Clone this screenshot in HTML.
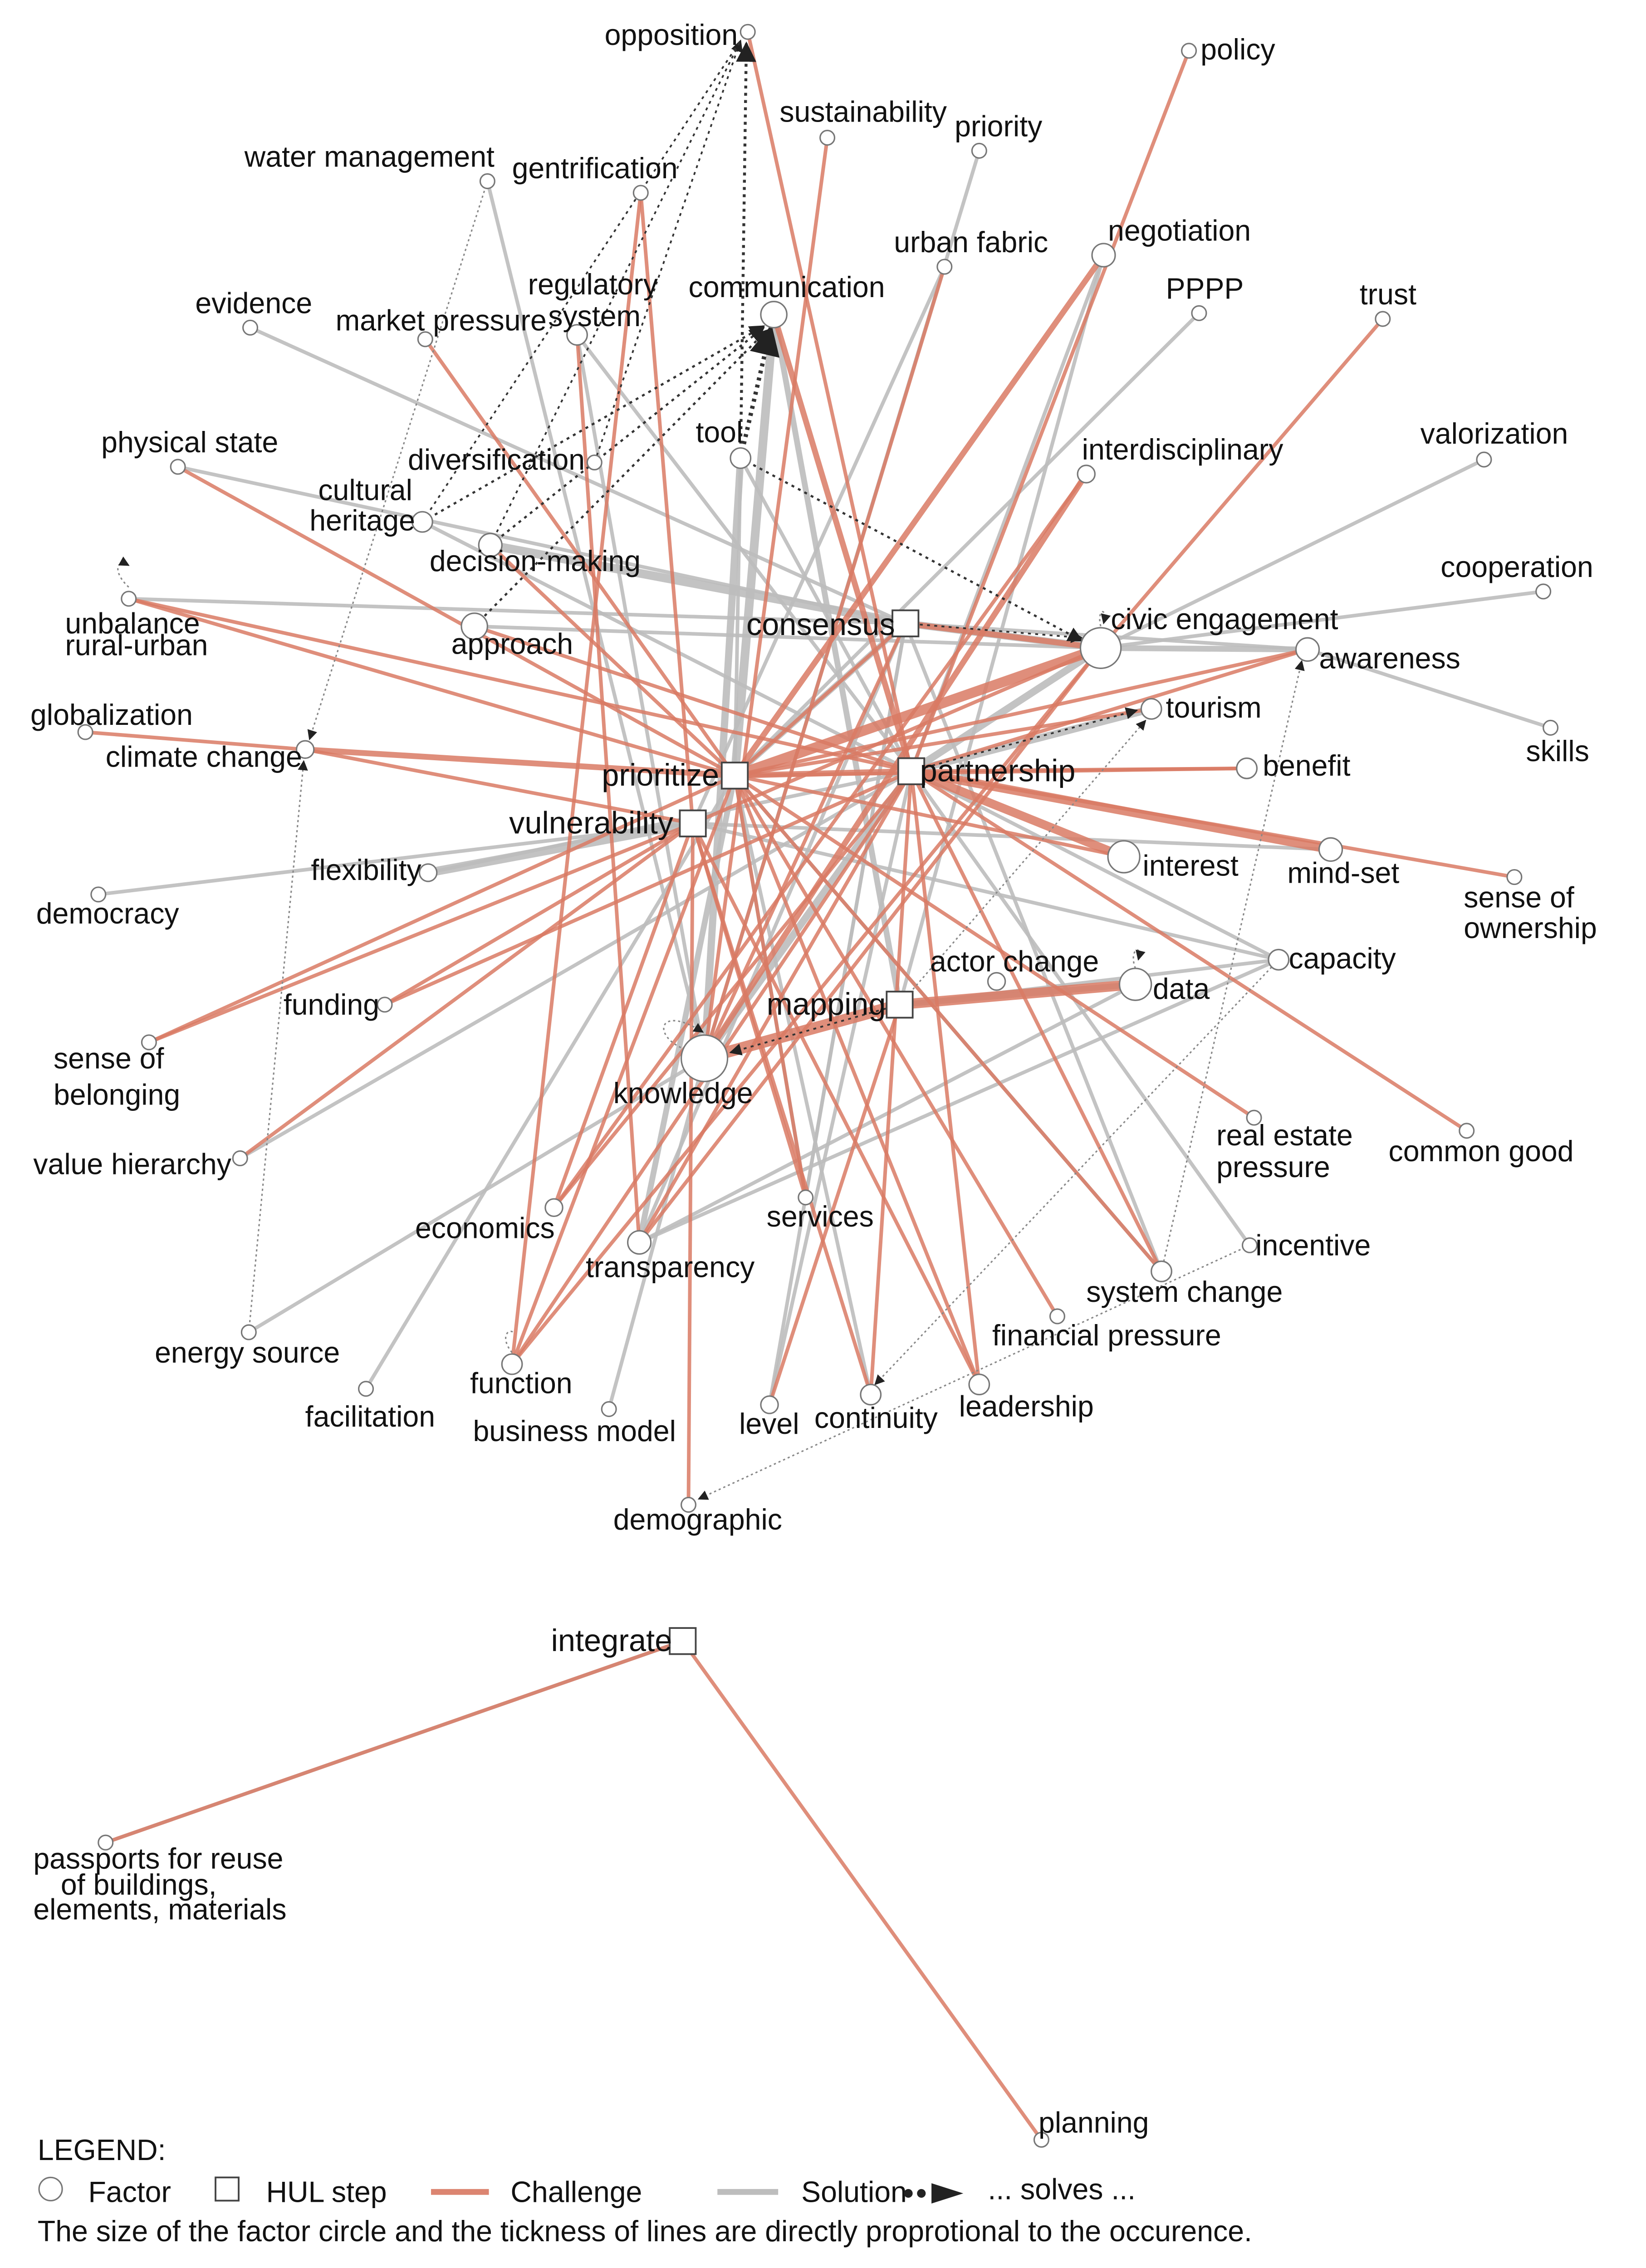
<!DOCTYPE html>
<html><head><meta charset="utf-8"><style>
html,body{margin:0;padding:0;background:#fff;overflow:hidden;width:3628px;height:5088px}
svg{display:block}
text{font-family:"Liberation Sans",sans-serif;font-size:20.2px;fill:#111}
.h{font-size:21.5px}
.r{stroke:#D97A64;fill:none;stroke-opacity:.85}
.g{stroke:#BDBDBD;fill:none;stroke-opacity:.9}
.d{stroke:#333;fill:none;stroke-dasharray:2 3}
.t{stroke:#888;fill:none;stroke-dasharray:1.5 2;stroke-width:1}
circle{fill:#fff;stroke:#777;stroke-width:1}
rect{fill:#fff;stroke:#444;stroke-width:1.2}
</style></head><body>
<svg width="3628" height="5088" viewBox="0 0 1138 1592" preserveAspectRatio="none" xmlns="http://www.w3.org/2000/svg">
<defs><marker id="a" viewBox="0 0 10 10" refX="9" refY="5" markerWidth="7" markerHeight="7" orient="auto"><path d="M0,0L10,5L0,10z" fill="#222"/></marker></defs>
<g class="g" stroke-width="2.5">
<line x1="677" y1="104" x2="487" y2="730"/>
<line x1="337" y1="125" x2="487" y2="730"/>
<line x1="173" y1="226" x2="626" y2="430"/>
<line x1="399" y1="231" x2="630" y2="532"/>
<line x1="399" y1="231" x2="487" y2="730"/>
<line x1="829" y1="216" x2="508" y2="535"/>
<line x1="1026" y1="317" x2="761" y2="447"/>
<line x1="1067" y1="408" x2="761" y2="447"/>
<line x1="904" y1="448" x2="1072" y2="502"/>
<line x1="68" y1="617" x2="479" y2="568"/>
<line x1="884" y1="662" x2="622" y2="693"/>
<line x1="884" y1="662" x2="630" y2="532"/>
<line x1="172" y1="919" x2="487" y2="730"/>
<line x1="253" y1="958" x2="508" y2="535"/>
<line x1="421" y1="972" x2="487" y2="730"/>
<line x1="512" y1="316" x2="630" y2="532"/>
<line x1="512" y1="316" x2="508" y2="535"/>
<line x1="292" y1="360" x2="630" y2="532"/>
<line x1="328" y1="432" x2="761" y2="447"/>
<line x1="864" y1="859" x2="630" y2="532"/>
<line x1="557" y1="826" x2="508" y2="535"/>
<line x1="442" y1="857" x2="626" y2="430"/>
<line x1="472" y1="1132" x2="73" y2="1271"/>
<line x1="653" y1="184" x2="479" y2="568"/>
<line x1="763" y1="176" x2="630" y2="532"/>
<line x1="763" y1="176" x2="622" y2="693"/>
<line x1="123" y1="322" x2="626" y2="430"/>
<line x1="904" y1="448" x2="626" y2="430"/>
<line x1="803" y1="877" x2="626" y2="430"/>
<line x1="166" y1="799" x2="630" y2="532"/>
<line x1="532" y1="969" x2="626" y2="430"/>
<line x1="602" y1="962" x2="508" y2="535"/>
<line x1="89" y1="413" x2="626" y2="430"/>
<line x1="296" y1="602" x2="630" y2="532"/>
<line x1="884" y1="662" x2="442" y2="857"/>
<line x1="785" y1="679" x2="442" y2="857"/>
<line x1="479" y1="568" x2="920" y2="586"/>
<line x1="479" y1="568" x2="884" y2="662"/>
<line x1="508" y1="535" x2="803" y2="877"/>
<line x1="508" y1="535" x2="557" y2="826"/>
<line x1="626" y1="430" x2="557" y2="826"/>
<line x1="630" y1="532" x2="532" y2="969"/>
</g>
<g class="g">
<line x1="535" y1="217" x2="508" y2="535" stroke-width="6"/>
<line x1="535" y1="217" x2="622" y2="693" stroke-width="4"/>
<line x1="339" y1="376" x2="626" y2="430" stroke-width="6"/>
<line x1="296" y1="602" x2="479" y2="568" stroke-width="6"/>
<line x1="512" y1="316" x2="487" y2="730" stroke-width="5"/>
<line x1="630" y1="532" x2="487" y2="730" stroke-width="5"/>
<line x1="630" y1="532" x2="796" y2="489" stroke-width="5"/>
<line x1="508" y1="535" x2="442" y2="857" stroke-width="4"/>
<line x1="622" y1="693" x2="785" y2="679" stroke-width="4"/>
<line x1="626" y1="430" x2="508" y2="535" stroke-width="4"/>
<line x1="761" y1="447" x2="630" y2="532" stroke-width="5"/>
<line x1="626" y1="430" x2="761" y2="447" stroke-width="5"/>
<line x1="761" y1="447" x2="904" y2="448" stroke-width="4"/>
</g>
<g class="r" stroke-width="2.5">
<line x1="822" y1="35" x2="630" y2="532"/>
<line x1="572" y1="95" x2="487" y2="730"/>
<line x1="443" y1="133" x2="479" y2="568"/>
<line x1="443" y1="133" x2="354" y2="941"/>
<line x1="294" y1="234" x2="508" y2="535"/>
<line x1="517" y1="22" x2="630" y2="532"/>
<line x1="653" y1="184" x2="487" y2="730"/>
<line x1="956" y1="220" x2="761" y2="447"/>
<line x1="123" y1="322" x2="508" y2="535"/>
<line x1="89" y1="413" x2="508" y2="535"/>
<line x1="89" y1="413" x2="630" y2="532"/>
<line x1="59" y1="505" x2="211" y2="517"/>
<line x1="508" y1="535" x2="904" y2="448"/>
<line x1="630" y1="532" x2="862" y2="530"/>
<line x1="1047" y1="605" x2="630" y2="532"/>
<line x1="103" y1="719" x2="508" y2="535"/>
<line x1="166" y1="799" x2="479" y2="568"/>
<line x1="266" y1="693" x2="630" y2="532"/>
<line x1="867" y1="771" x2="508" y2="535"/>
<line x1="1014" y1="780" x2="630" y2="532"/>
<line x1="383" y1="833" x2="630" y2="532"/>
<line x1="354" y1="941" x2="508" y2="535"/>
<line x1="354" y1="941" x2="761" y2="447"/>
<line x1="532" y1="969" x2="622" y2="693"/>
<line x1="602" y1="962" x2="479" y2="568"/>
<line x1="677" y1="955" x2="508" y2="535"/>
<line x1="731" y1="908" x2="508" y2="535"/>
<line x1="803" y1="877" x2="630" y2="532"/>
<line x1="442" y1="857" x2="761" y2="447"/>
<line x1="476" y1="1038" x2="479" y2="568"/>
<line x1="472" y1="1132" x2="73" y2="1271"/>
<line x1="472" y1="1132" x2="720" y2="1476"/>
<line x1="399" y1="231" x2="442" y2="857"/>
<line x1="557" y1="826" x2="479" y2="568"/>
<line x1="602" y1="962" x2="630" y2="532"/>
<line x1="677" y1="955" x2="630" y2="532"/>
<line x1="383" y1="833" x2="751" y2="327"/>
<line x1="508" y1="535" x2="796" y2="489"/>
<line x1="508" y1="535" x2="862" y2="530"/>
<line x1="508" y1="535" x2="777" y2="591"/>
<line x1="508" y1="535" x2="803" y2="877"/>
<line x1="508" y1="535" x2="557" y2="826"/>
<line x1="479" y1="568" x2="383" y2="833"/>
<line x1="479" y1="568" x2="266" y2="693"/>
<line x1="479" y1="568" x2="103" y2="719"/>
<line x1="479" y1="568" x2="211" y2="517"/>
<line x1="479" y1="568" x2="677" y2="955"/>
<line x1="479" y1="568" x2="761" y2="447"/>
<line x1="630" y1="532" x2="904" y2="448"/>
<line x1="630" y1="532" x2="442" y2="857"/>
<line x1="630" y1="532" x2="354" y2="941"/>
<line x1="626" y1="430" x2="508" y2="535"/>
<line x1="626" y1="430" x2="487" y2="730"/>
<line x1="339" y1="376" x2="508" y2="535"/>
<line x1="328" y1="432" x2="630" y2="532"/>
</g>
<g class="r">
<line x1="508" y1="535" x2="761" y2="447" stroke-width="7"/>
<line x1="630" y1="532" x2="920" y2="586" stroke-width="6"/>
<line x1="630" y1="532" x2="777" y2="591" stroke-width="6"/>
<line x1="622" y1="693" x2="785" y2="679" stroke-width="7"/>
<line x1="622" y1="693" x2="487" y2="730" stroke-width="8"/>
<line x1="763" y1="176" x2="508" y2="535" stroke-width="4"/>
<line x1="211" y1="517" x2="508" y2="535" stroke-width="4"/>
<line x1="535" y1="217" x2="630" y2="532" stroke-width="4"/>
<line x1="751" y1="327" x2="487" y2="730" stroke-width="4"/>
<line x1="508" y1="535" x2="630" y2="532" stroke-width="4"/>
<line x1="626" y1="430" x2="761" y2="447" stroke-width="4"/>
</g>
<g>
<line class="d" x1="512" y1="316" x2="516" y2="30" stroke-width="2" marker-end="url(#a)"/>
<line class="d" x1="512" y1="316" x2="533" y2="226" stroke-width="3" stroke-dasharray="2 2" marker-end="url(#a)"/>
<line class="d" x1="292" y1="360" x2="528" y2="225" stroke-width="1.5" marker-end="url(#a)"/>
<line class="d" x1="339" y1="376" x2="528" y2="226" stroke-width="1.5" marker-end="url(#a)"/>
<line class="d" x1="328" y1="432" x2="530" y2="228" stroke-width="1.5" marker-end="url(#a)"/>
<line class="d" x1="512" y1="316" x2="748" y2="442" stroke-width="1.5" marker-end="url(#a)"/>
<line class="d" x1="411" y1="319" x2="512" y2="28" stroke-width="1.2" marker-end="url(#a)"/>
<line class="d" x1="292" y1="360" x2="512" y2="28" stroke-width="1.2"/>
<line class="d" x1="339" y1="376" x2="512" y2="28" stroke-width="1.2"/>
<line class="d" x1="626" y1="430" x2="748" y2="440" stroke-width="1.2" marker-end="url(#a)"/>
<line class="d" x1="630" y1="532" x2="786" y2="490" stroke-width="1.2" marker-end="url(#a)"/>
<line class="d" x1="622" y1="693" x2="505" y2="726" stroke-width="1.2" marker-end="url(#a)"/>
<line class="t" x1="337" y1="125" x2="214" y2="510" marker-end="url(#a)"/>
<line class="t" x1="172" y1="919" x2="210" y2="525" marker-end="url(#a)"/>
<line class="t" x1="803" y1="877" x2="900" y2="456" marker-end="url(#a)"/>
<line class="t" x1="884" y1="662" x2="605" y2="955" marker-end="url(#a)"/>
<line class="t" x1="864" y1="859" x2="483" y2="1034" marker-end="url(#a)"/>
<line class="t" x1="622" y1="693" x2="792" y2="497" marker-end="url(#a)"/>
<path class="t" d="M89,405 C78,395 80,385 89,390" marker-end="url(#a)"/>
<path class="t" d="M354,933 C345,922 352,915 356,920"/>
<path class="t" d="M785,668 C780,655 790,650 787,662" marker-end="url(#a)"/>
<path class="t" d="M761,432 C758,420 766,418 763,430" marker-end="url(#a)"/>
<path class="t" d="M474,724 C450,715 455,692 486,712" marker-end="url(#a)"/>
</g>
<g>
<circle cx="517" cy="22" r="5"/><circle cx="822" cy="35" r="5"/><circle cx="572" cy="95" r="5"/><circle cx="677" cy="104" r="5"/>
<circle cx="337" cy="125" r="5"/><circle cx="443" cy="133" r="5"/><circle cx="653" cy="184" r="5"/><circle cx="763" cy="176" r="8"/>
<circle cx="173" cy="226" r="5"/><circle cx="294" cy="234" r="5"/><circle cx="399" cy="231" r="7"/><circle cx="535" cy="217" r="9"/>
<circle cx="829" cy="216" r="5"/><circle cx="956" cy="220" r="5"/><circle cx="512" cy="316" r="7"/><circle cx="411" cy="319" r="5"/>
<circle cx="123" cy="322" r="5"/><circle cx="751" cy="327" r="6"/><circle cx="1026" cy="317" r="5"/><circle cx="292" cy="360" r="7"/>
<circle cx="339" cy="376" r="8"/><circle cx="1067" cy="408" r="5"/><circle cx="89" cy="413" r="5"/><circle cx="328" cy="432" r="9"/>
<circle cx="761" cy="447" r="14"/><circle cx="904" cy="448" r="8"/><circle cx="796" cy="489" r="7"/><circle cx="1072" cy="502" r="5"/>
<circle cx="59" cy="505" r="5"/><circle cx="211" cy="517" r="6"/><circle cx="862" cy="530" r="7"/><circle cx="777" cy="591" r="11"/>
<circle cx="920" cy="586" r="8"/><circle cx="296" cy="602" r="6"/><circle cx="1047" cy="605" r="5"/><circle cx="68" cy="617" r="5"/>
<circle cx="884" cy="662" r="7"/><circle cx="689" cy="677" r="6"/><circle cx="785" cy="679" r="11"/><circle cx="266" cy="693" r="5"/>
<circle cx="103" cy="719" r="5"/><circle cx="487" cy="730" r="16"/><circle cx="166" cy="799" r="5"/><circle cx="867" cy="771" r="5"/>
<circle cx="1014" cy="780" r="5"/><circle cx="383" cy="833" r="6"/><circle cx="557" cy="826" r="5"/><circle cx="442" cy="857" r="8"/>
<circle cx="864" cy="859" r="5"/><circle cx="803" cy="877" r="7"/><circle cx="731" cy="908" r="5"/><circle cx="172" cy="919" r="5"/>
<circle cx="354" cy="941" r="7"/><circle cx="602" cy="962" r="7"/><circle cx="677" cy="955" r="7"/><circle cx="253" cy="958" r="5"/>
<circle cx="532" cy="969" r="6"/><circle cx="421" cy="972" r="5"/><circle cx="476" cy="1038" r="5"/><circle cx="73" cy="1271" r="5"/>
<circle cx="720" cy="1476" r="5"/>
<rect x="617" y="421" width="18" height="18"/><rect x="499" y="526" width="18" height="18"/><rect x="621" y="523" width="18" height="18"/>
<rect x="470" y="559" width="18" height="18"/><rect x="613" y="684" width="18" height="18"/><rect x="463" y="1123" width="18" height="18"/>
</g>
<g>
<text x="418" y="31">opposition</text><text x="830" y="41">policy</text><text x="539" y="84">sustainability</text><text x="660" y="94">priority</text>
<text x="169" y="115">water management</text><text x="354" y="123">gentrification</text><text x="618" y="174">urban fabric</text><text x="766" y="166">negotiation</text>
<text x="135" y="216">evidence</text><text x="232" y="228">market pressure</text><text x="365" y="203">regulatory</text><text x="379" y="225">system</text>
<text x="476" y="205">communication</text><text x="806" y="206">PPPP</text><text x="940" y="210">trust</text><text x="481" y="305">tool</text>
<text x="282" y="324">diversification</text><text x="70" y="312">physical state</text><text x="748" y="317">interdisciplinary</text><text x="982" y="306">valorization</text>
<text x="220" y="345">cultural</text><text x="214" y="366">heritage</text><text x="297" y="394">decision-making</text><text x="996" y="398">cooperation</text>
<text x="45" y="437">unbalance</text><text x="45" y="452">rural-urban</text><text x="312" y="451">approach</text>
<text x="516" y="438" class="h">consensus</text><text x="768" y="434">civic engagement</text><text x="912" y="461">awareness</text>
<text x="806" y="495">tourism</text><text x="1055" y="525">skills</text><text x="21" y="500">globalization</text><text x="73" y="529">climate change</text>
<text x="416" y="542" class="h">prioritize</text><text x="636" y="539" class="h">partnership</text><text x="873" y="535">benefit</text>
<text x="352" y="575" class="h">vulnerability</text><text x="790" y="604">interest</text><text x="890" y="609">mind-set</text>
<text x="215" y="607">flexibility</text><text x="1012" y="626">sense of</text><text x="1012" y="647">ownership</text><text x="25" y="637">democracy</text>
<text x="891" y="668">capacity</text><text x="643" y="670">actor change</text><text x="797" y="689">data</text><text x="530" y="700" class="h">mapping</text>
<text x="196" y="700">funding</text><text x="37" y="737">sense of</text><text x="37" y="762">belonging</text><text x="424" y="761">knowledge</text>
<text x="23" y="810">value hierarchy</text><text x="841" y="790">real estate</text><text x="841" y="812">pressure</text><text x="960" y="801">common good</text>
<text x="287" y="854">economics</text><text x="530" y="846">services</text><text x="405" y="881">transparency</text><text x="868" y="866">incentive</text>
<text x="751" y="898">system change</text><text x="686" y="928">financial pressure</text><text x="107" y="940">energy source</text>
<text x="325" y="961">function</text><text x="563" y="985">continuity</text><text x="663" y="977">leadership</text><text x="211" y="984">facilitation</text>
<text x="511" y="989">level</text><text x="327" y="994">business model</text><text x="424" y="1055">demographic</text>
<text x="381" y="1139" class="h">integrate</text>
<text x="23" y="1289">passports for reuse</text><text x="42" y="1307">of buildings,</text><text x="23" y="1324">elements, materials</text>
<text x="718" y="1471">planning</text>
</g>
<g>
<text x="26" y="1490">LEGEND:</text>
<circle cx="35" cy="1510" r="8"/><text x="61" y="1519">Factor</text>
<rect x="149" y="1502" width="16" height="16"/><text x="184" y="1519">HUL step</text>
<line x1="298" y1="1512" x2="338" y2="1512" stroke="#DC8571" stroke-width="4"/><text x="353" y="1519">Challenge</text>
<line x1="496" y1="1512" x2="538" y2="1512" stroke="#BDBDBD" stroke-width="4"/><text x="554" y="1519">Solution</text>
<circle cx="628" cy="1513" r="3" style="fill:#222;stroke:none"/><circle cx="637" cy="1513" r="3" style="fill:#222;stroke:none"/>
<path d="M644,1506L666,1513L644,1520z" fill="#222"/><text x="683" y="1517">... solves ...</text>
<text x="26" y="1546">The size of the factor circle and the tickness of lines are directly proprotional to the occurence.</text>
</g>
</svg>
</body></html>
